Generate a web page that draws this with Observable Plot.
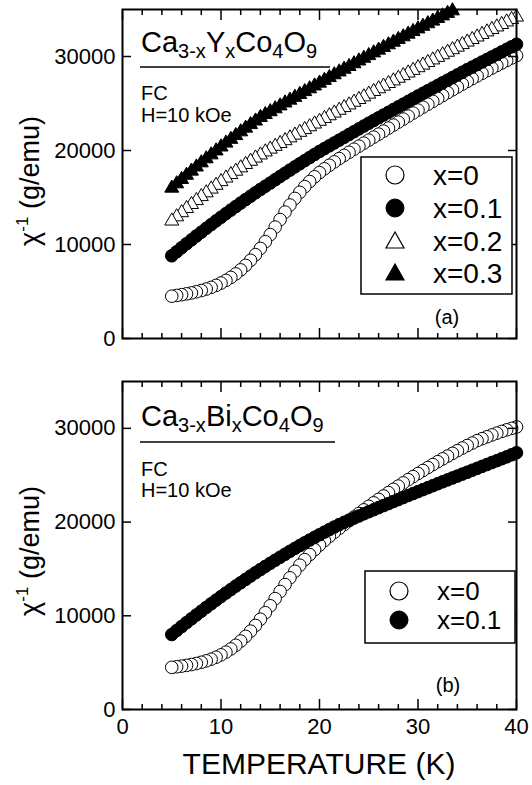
<!DOCTYPE html>
<html><head><meta charset="utf-8">
<script src="https://cdn.jsdelivr.net/npm/d3@7"></script>
<script src="https://cdn.jsdelivr.net/npm/@observablehq/plot@0.6"></script>
<style>
html,body{margin:0;padding:0;background:#fff;}
#wrap{position:relative;width:532px;height:785px;overflow:hidden;font-family:"Liberation Sans",Arial,sans-serif;background:#fff;}
#top,#bot{position:absolute;left:0;}
#top{top:0}
#bot{top:371px}
#ov{position:absolute;left:0;top:0;pointer-events:none;}
#ov text{font-family:"Liberation Sans",Arial,sans-serif;fill:#000;white-space:pre;}
</style></head><body>
<div id="wrap"><div id="top"></div><div id="bot"></div><svg id="ov" width="532" height="785"></svg></div>
<script>
// Temperature (K)
const temps = [5,5.5,6,6.5,7,7.5,8,8.5,9,9.5,10,10.5,11,11.5,12,12.5,13,13.5,14,14.5,15,15.5,16,16.5,17,17.5,18,18.5,19,19.5,20,20.5,21,21.5,22,22.5,23,23.5,24,24.5,25,25.5,26,26.5,27,27.5,28,28.5,29,29.5,30,30.5,31,31.5,32,32.5,33,33.5,34,34.5,35,35.5,36,36.5,37,37.5,38,38.5,39,39.5,40];

// (a) Ca3-xYxCo4O9, 1/chi (g/emu)
const yX0 = [4500,4580,4660,4750,4850,4970,5100,5260,5440,5650,5900,6180,6500,6870,7300,7780,8320,8920,9580,10300,11050,11850,12650,13450,14200,14900,15550,16150,16700,17200,17650,18050,18430,18790,19140,19480,19810,20140,20460,20780,21100,21420,21740,22060,22380,22700,23020,23340,23660,23980,24300,24610,24920,25230,25540,25850,26160,26460,26760,27060,27350,27640,27930,28210,28490,28770,29040,29310,29580,29840,30100];
const yX01 = [8800,9230,9660,10080,10490,10910,11310,11720,12110,12510,12900,13280,13660,14040,14410,14780,15140,15500,15850,16200,16540,16890,17240,17580,17920,18260,18590,18920,19250,19580,19900,20200,20500,20800,21100,21400,21700,22000,22300,22600,22900,23190,23480,23770,24060,24350,24640,24930,25220,25510,25800,26080,26360,26640,26920,27200,27480,27760,28040,28320,28600,28870,29140,29410,29680,29950,30220,30490,30760,31030,31300];
const yX02 = [12500,12950,13390,13830,14260,14680,15100,15500,15900,16300,16690,17070,17440,17800,18160,18520,18860,19200,19530,19850,20150,20450,20750,21050,21350,21640,21940,22230,22530,22820,23110,23410,23700,23990,24280,24570,24850,25140,25430,25710,26000,26280,26570,26850,27130,27410,27690,27970,28250,28530,28810,29090,29360,29640,29910,30190,30460,30730,31000,31270,31540,31810,32080,32350,32620,32880,33150,33410,33680,33940,34200];
const yX03 = [16000,16460,16920,17370,17810,18250,18690,19120,19540,19960,20380,20790,21190,21590,21990,22380,22760,23140,23520,23830,24130,24440,24750,25060,25360,25660,25970,26270,26570,26870,27170,27470,27760,28060,28360,28650,28940,29230,29530,29820,30100,30390,30680,30970,31250,31530,31820,32100,32380,32660,32940,33220,33490,33770,34050,34320,34590,34860];

// (b) Ca3-xBixCo4O9
const bX0 = [4500,4560,4630,4710,4800,4910,5040,5190,5370,5580,5830,6120,6460,6850,7300,7800,8360,8970,9630,10330,11070,11830,12590,13330,14050,14750,15400,15990,16530,17050,17550,18030,18480,18910,19330,19740,20140,20530,20920,21300,21680,22050,22420,22780,23140,23490,23840,24180,24520,24850,25180,25500,25820,26130,26440,26740,27040,27330,27620,27900,28170,28430,28690,28900,29100,29300,29490,29670,29840,30000,30150];
const bX01 = [8000,8430,8850,9270,9680,10090,10490,10890,11280,11670,12050,12430,12800,13170,13530,13890,14240,14590,14930,15270,15600,15930,16250,16570,16880,17190,17490,17790,18080,18370,18650,18930,19200,19470,19730,19970,20200,20430,20650,20880,21100,21320,21540,21760,21970,22190,22400,22620,22830,23040,23250,23460,23670,23880,24090,24300,24500,24710,24910,25120,25320,25530,25730,25940,26140,26350,26550,26760,26960,27180,27400];

const xMajor = [0,10,20,30,40];
const xMinor = [2,4,6,8,12,14,16,18,22,24,26,28,32,34,36,38];
const yTicks = [0,10000,20000,30000];

const topLabels = ["x=0","x=0.1","x=0.2","x=0.3"];
const botLabels = ["x=0","x=0.1"];

const specs = {
  open:  {symbol:"circle", fill:"white", r:6.3},
  fill:  {symbol:"circle", fill:"black", r:6.3},
  otri:  {symbol:"triangle", fill:"white", r:5.2},
  ftri:  {symbol:"triangle", fill:"black", r:5.2}
};

function rowsOf(vals){
  // measured on cooling: draw high T first so low-T markers lie on top
  return temps.map((t,i)=>({T:t, v:vals[i]})).filter(d=>d.v!=null).reverse();
}

function axes(showLabels){
  const fmt = d => String(d);
  const none = () => "";
  return [
    Plot.axisY({anchor:"left", ticks:yTicks, tickSize:-9, tickPadding:16, tickFormat:fmt, label:null, strokeWidth:1.5}),
    Plot.axisY({anchor:"right", ticks:yTicks, tickSize:-9, tickFormat:none, label:null, strokeWidth:1.5}),
    Plot.axisX({anchor:"bottom", ticks:xMajor, tickSize:-10, tickPadding:19, tickFormat: showLabels ? fmt : none, label:null, strokeWidth:1.5}),
    Plot.axisX({anchor:"bottom", ticks:xMinor, tickSize:-5, tickFormat:none, label:null, strokeWidth:1.5}),
    Plot.axisX({anchor:"top", ticks:xMajor, tickSize:-10, tickFormat:none, label:null, strokeWidth:1.5}),
    Plot.axisX({anchor:"top", ticks:xMinor, tickSize:-5, tickFormat:none, label:null, strokeWidth:1.5})
  ];
}

function panel(series, showLabels, height, mTop, mBottom){
  const marks = series.map(([vals, k]) => {
    const s = specs[k];
    return Plot.dot(rowsOf(vals), {x:"T", y:"v", r:s.r, symbol:s.symbol, fill:s.fill, stroke:"black", strokeWidth:1});
  });
  return Plot.plot({
    width:532, height, marginLeft:122, marginRight:16, marginTop:mTop, marginBottom:mBottom,
    style:{fontFamily:"Liberation Sans, Arial, sans-serif", fontSize:"22px", background:"transparent", color:"black", overflow:"visible"},
    x:{domain:[0,40]}, y:{domain:[0,35000]},
    marks:[...marks, ...axes(showLabels), Plot.frame({stroke:"black", strokeWidth:2})]
  });
}

document.getElementById("top").appendChild(
  panel([[yX0,"open"],[yX01,"fill"],[yX02,"otri"],[yX03,"ftri"]], false, 360, 9, 22));
document.getElementById("bot").appendChild(
  panel([[bX0,"open"],[bX01,"fill"]], true, 414, 10, 76));

// Overlay texts & legends
function title(y, el){
  return `<text x="141" y="${y}" font-size="29">Ca<tspan font-size="20" dy="6">3-x</tspan><tspan dy="-6">${el}</tspan><tspan font-size="20" dy="6">x</tspan><tspan dy="-6">Co</tspan><tspan font-size="20" dy="6">4</tspan><tspan dy="-6">O</tspan><tspan font-size="20" dy="6">9</tspan></text>`;
}
function marker(kind, cx, cy){
  if (kind==="open") return `<circle cx="${cx}" cy="${cy}" r="9" fill="white" stroke="black" stroke-width="1.2"/>`;
  if (kind==="fill") return `<circle cx="${cx}" cy="${cy}" r="9" fill="black" stroke="black"/>`;
  const pts = `${cx},${cy-9} ${cx-9},${cy+7} ${cx+9},${cy+7}`;
  return `<polygon points="${pts}" fill="${kind==="otri"?"white":"black"}" stroke="black" stroke-width="1.2"/>`;
}
function legend(x, y, w, h, rows, labels, kinds, fs){
  let s = `<rect x="${x}" y="${y}" width="${w}" height="${h}" fill="white" stroke="black" stroke-width="1.5"/>`;
  rows.forEach((ry,i)=>{
    s += marker(kinds[i], x+34, ry);
    s += `<text x="${x+72}" y="${ry+fs*0.36}" font-size="${fs}">${labels[i]}</text>`;
  });
  return s;
}
function ylab(cy){
  return `<text transform="translate(39,${cy}) rotate(-90)" text-anchor="middle" font-size="27">χ<tspan font-size="17" dy="-11">-1</tspan><tspan dy="11">\u00A0(g/emu)</tspan></text>`;
}

let ov = "";
ov += title(52, "Y");
ov += `<line x1="140" x2="330" y1="67" y2="67" stroke="black" stroke-width="1.5"/>`;
ov += `<text x="141" y="100" font-size="20">FC</text><text x="141" y="122" font-size="20">H=10 kOe</text>`;
ov += legend(361, 157, 151, 137, [175,208,241,273], topLabels, ["open","fill","otri","ftri"], 28);
ov += `<text x="447" y="324" font-size="20" text-anchor="middle">(a)</text>`;
ov += ylab(181);

ov += title(426, "Bi");
ov += `<line x1="140" x2="335" y1="442" y2="442" stroke="black" stroke-width="1.5"/>`;
ov += `<text x="141" y="476" font-size="20">FC</text><text x="141" y="497" font-size="20">H=10 kOe</text>`;
ov += legend(365, 571, 150, 72, [591,620], botLabels, ["open","fill"], 26);
ov += `<text x="448" y="692" font-size="20" text-anchor="middle">(b)</text>`;
ov += ylab(551);
ov += `<text x="319" y="774" font-size="30" text-anchor="middle">TEMPERATURE (K)</text>`;
document.getElementById("ov").innerHTML = ov;
</script>
</body></html>
